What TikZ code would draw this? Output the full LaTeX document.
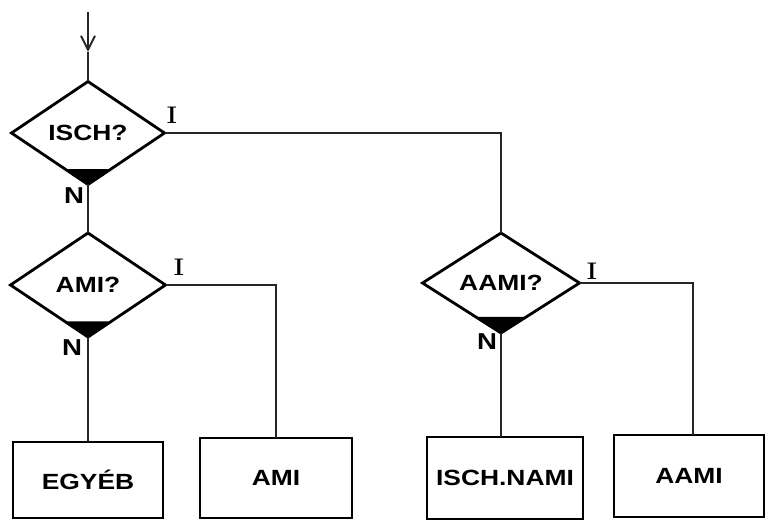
\documentclass[tikz,border=0pt]{standalone}
\usepackage{fontspec}
\newfontfamily\boxfont[FakeStretch=1.2]{Liberation Sans}
\usetikzlibrary{shapes.geometric,calc,arrows.meta}
\begin{document}
\begin{tikzpicture}[x=1pt,y=-1pt,
  dec/.style={diamond, draw, line width=2.8pt, inner sep=0pt, outer sep=0pt,
    aspect=1.5, font=\boxfont\bfseries\fontsize{22}{22}\selectfont},
  procbox/.style={rectangle, draw, line width=2.4pt, inner sep=0pt, outer sep=0pt,
    font=\boxfont\bfseries\fontsize{22}{22}\selectfont},
  conn/.style={line width=1.1pt, black!85},
  yeslab/.style={inner sep=0pt, font=\rmfamily\bfseries\fontsize{24}{24}\selectfont},
  nolab/.style={inner sep=0pt, font=\boxfont\bfseries\fontsize{23}{23}\selectfont},
  wedge/.style={fill=black}]
\useasboundingbox (0,0) rectangle (766,521);
\fill[white] (0,0) rectangle (766,521);

% decisions
\node[dec, minimum width=153pt, minimum height=103pt] (isch) at (88,133) {ISCH?};
\node[dec, minimum width=155pt, minimum height=104pt] (ami) at (88,285) {AMI?};
\node[dec, minimum width=157pt, minimum height=100pt] (aami) at (501,283) {AAMI?};

% wedges at the N exits
\fill[wedge] ($(isch.south)!0.3!(isch.west)$) -- (isch.south) -- ($(isch.south)!0.3!(isch.east)$) -- cycle;
\fill[wedge] ($(ami.south)!0.3!(ami.west)$) -- (ami.south) -- ($(ami.south)!0.3!(ami.east)$) -- cycle;
\fill[wedge] ($(aami.south)!0.32!(aami.west)$) -- (aami.south) -- ($(aami.south)!0.32!(aami.east)$) -- cycle;

% process boxes
\node[procbox, minimum width=150pt, minimum height=76pt] (egyeb) at (88,480) {EGYÉB};
\node[procbox, minimum width=152pt, minimum height=80pt] (amibox) at (276,478) {AMI};
\node[procbox, minimum width=156pt, minimum height=82pt] (ischnami) at (505,478) {ISCH.NAMI};
\node[procbox, minimum width=150pt, minimum height=82pt] (aamibox) at (689,476) {AAMI};

% labels
\node[yeslab] (i1) at (172,115) {I};
\node[nolab] (n1) at (74,196) {N};
\node[yeslab] (i2) at (179,267) {I};
\node[nolab] (n2) at (72,348) {N};
\node[yeslab] (i3) at (592,271) {I};
\node[nolab] (n3) at (487,342) {N};

% connectors
\coordinate (start) at (88,12);
\coordinate (tip) at (88,52);
\coordinate (k) at (693,283);
\draw[conn, -{Straight Barb[length=14pt,width=14pt,line width=2pt]}] (start) -- (tip);
\draw[conn] (tip) -- (isch.north);
\draw[conn] (isch.east) -| (aami.north);
\draw[conn] (isch.south) -- (ami.north);
\draw[conn] (ami.east) -| (amibox.north);
\draw[conn] (ami.south) -- (egyeb.north);
\draw[conn] (aami.east) -- (k) -- (k |- aamibox.north);
\draw[conn] (aami.south) -- (aami.south |- ischnami.north);
\end{tikzpicture}
\end{document}
